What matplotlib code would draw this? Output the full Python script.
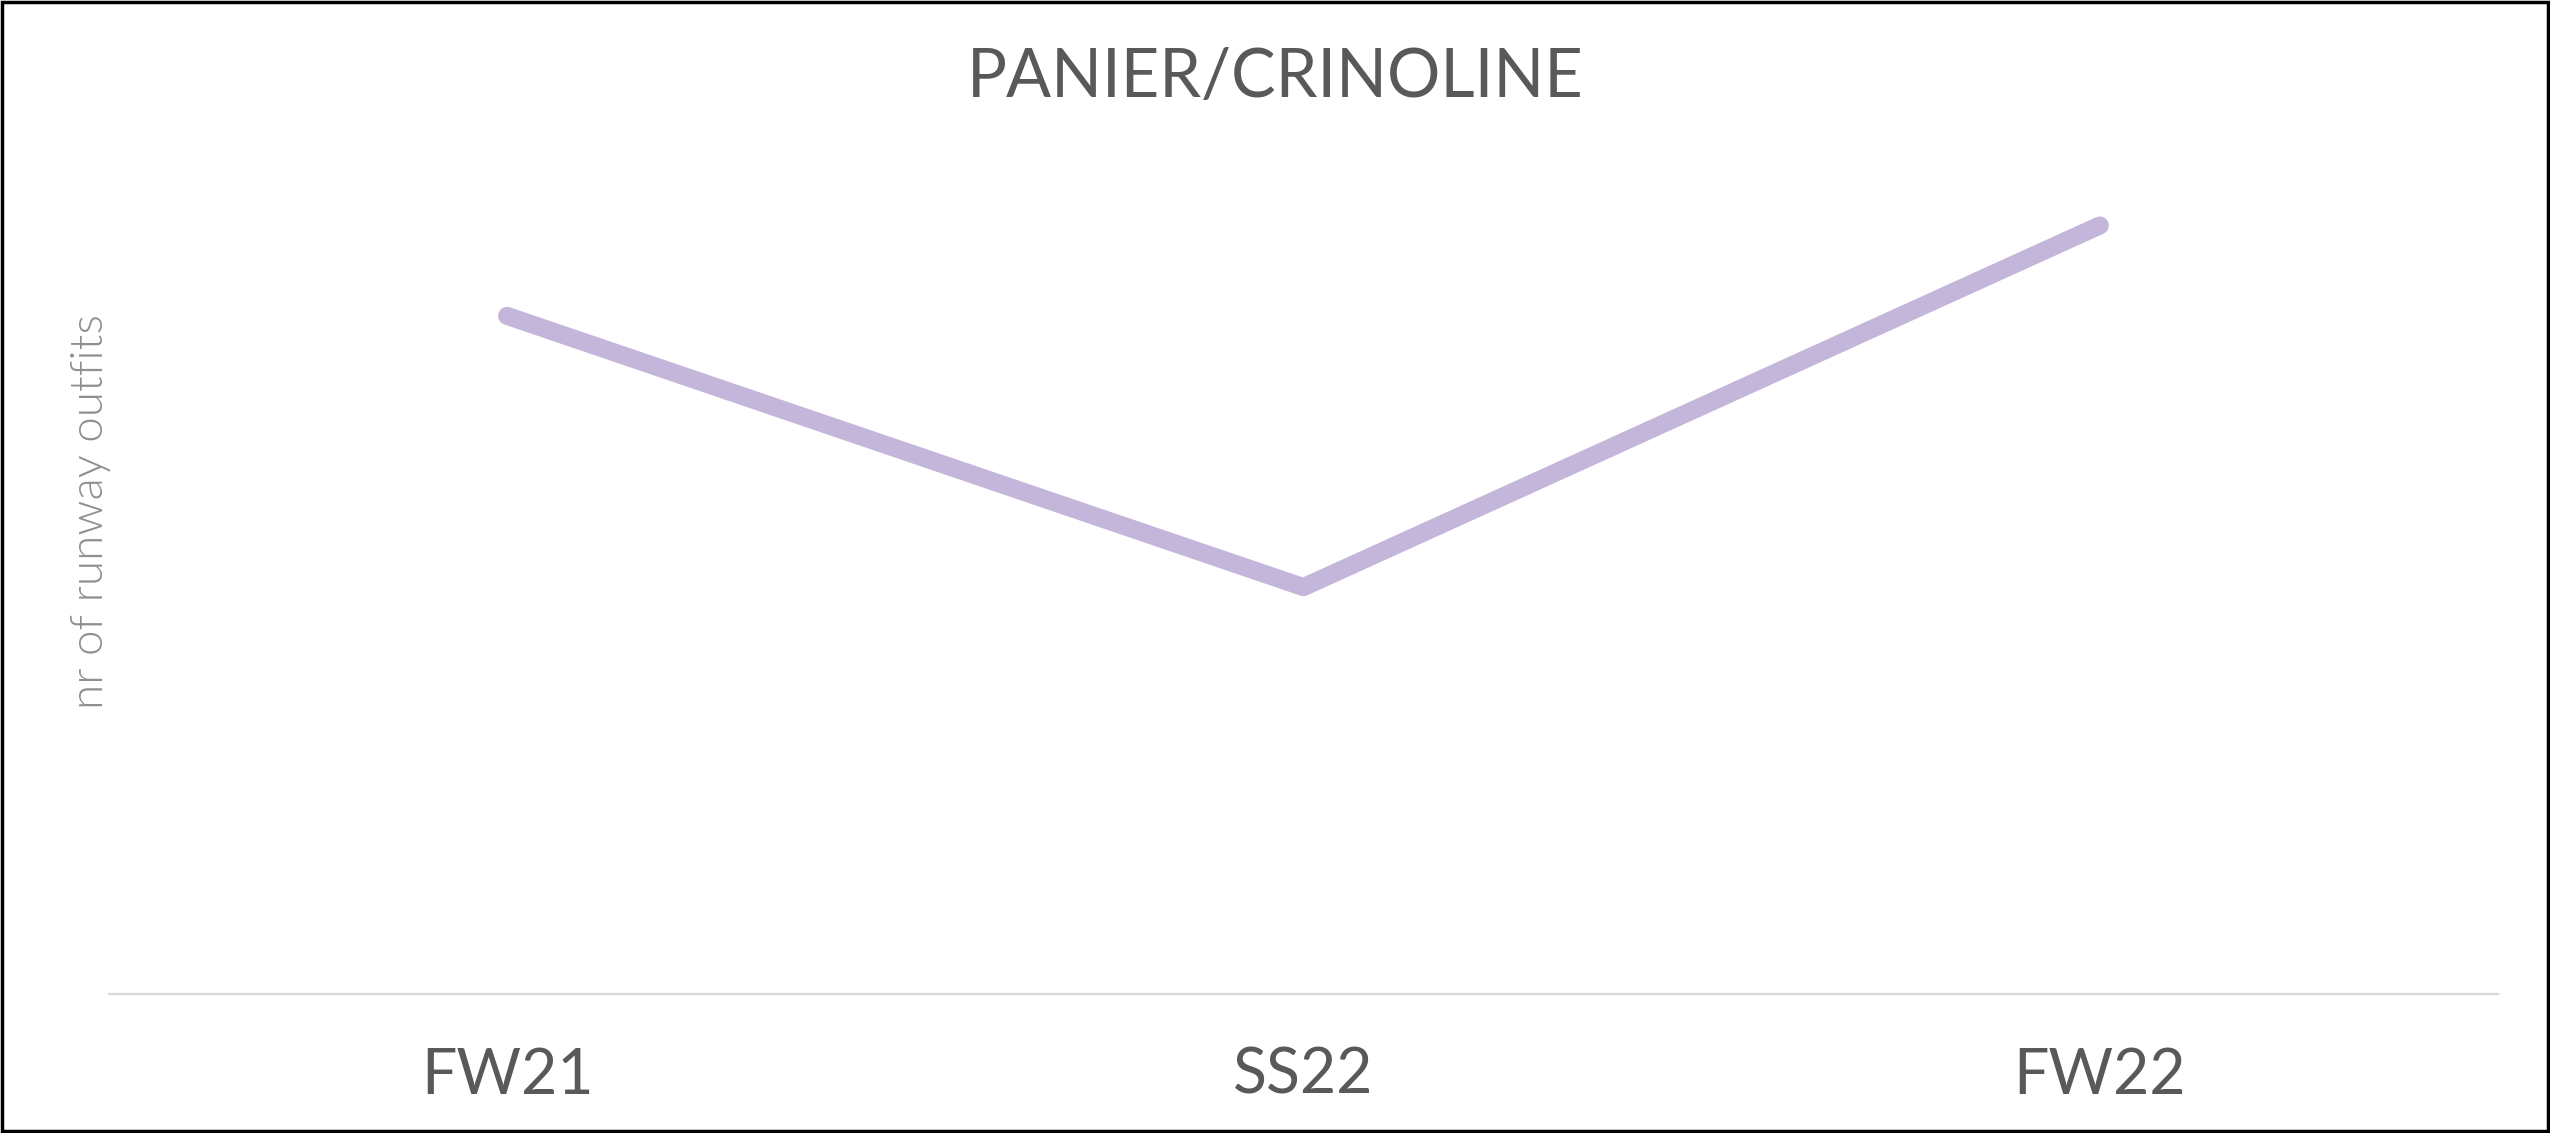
import matplotlib.pyplot as plt
from matplotlib.patches import Rectangle

# runway data
seasons = ['FW21', 'SS22', 'FW22']
outfits = [15, 9, 17]

title_text = 'PANIER/CRINOLINE'
ylabel_text = 'nr of runway outfits'

plt.rcParams['font.family'] = ['Lato', 'DejaVu Sans']

fig = plt.figure(figsize=(25.5, 11.33), dpi=100)
ax = fig.add_axes([0.0427, 0.1227, 0.9369, 0.798])

line_color = '#c4b5da'
ax.plot(range(len(seasons)), outfits, color=line_color, linewidth=13,
        solid_capstyle='round', solid_joinstyle='round')

ax.set_xlim(-0.5, len(seasons) - 0.5)
ax.set_ylim(0, 20)

# only the light baseline stays
for side in ['top', 'right', 'left']:
    ax.spines[side].set_visible(False)
ax.spines['bottom'].set_color('#d9d9d9')
ax.spines['bottom'].set_linewidth(1.6)
ax.set_yticks([])
ax.set_xticks(range(len(seasons)))
ax.set_xticklabels(seasons, fontsize=45, color='#595959')
ax.tick_params(axis='x', length=0, pad=38)

fig.text(0.5, 1 - 78 / 1133, title_text, ha='center', va='center',
         fontsize=48, color='#595959')
fig.text(91 / 2550, 1 - 512 / 1133, ylabel_text, rotation=90,
         ha='center', va='center', fontsize=33, fontweight=300,
         color='#8f8f8f')

# black frame round the picture
fig.patches.append(Rectangle((0.0008, 0.0015), 0.9984, 0.997, transform=fig.transFigure,
                             fill=False, edgecolor='black', linewidth=2.5))

fig.savefig('out.png', dpi=100, facecolor='white')
